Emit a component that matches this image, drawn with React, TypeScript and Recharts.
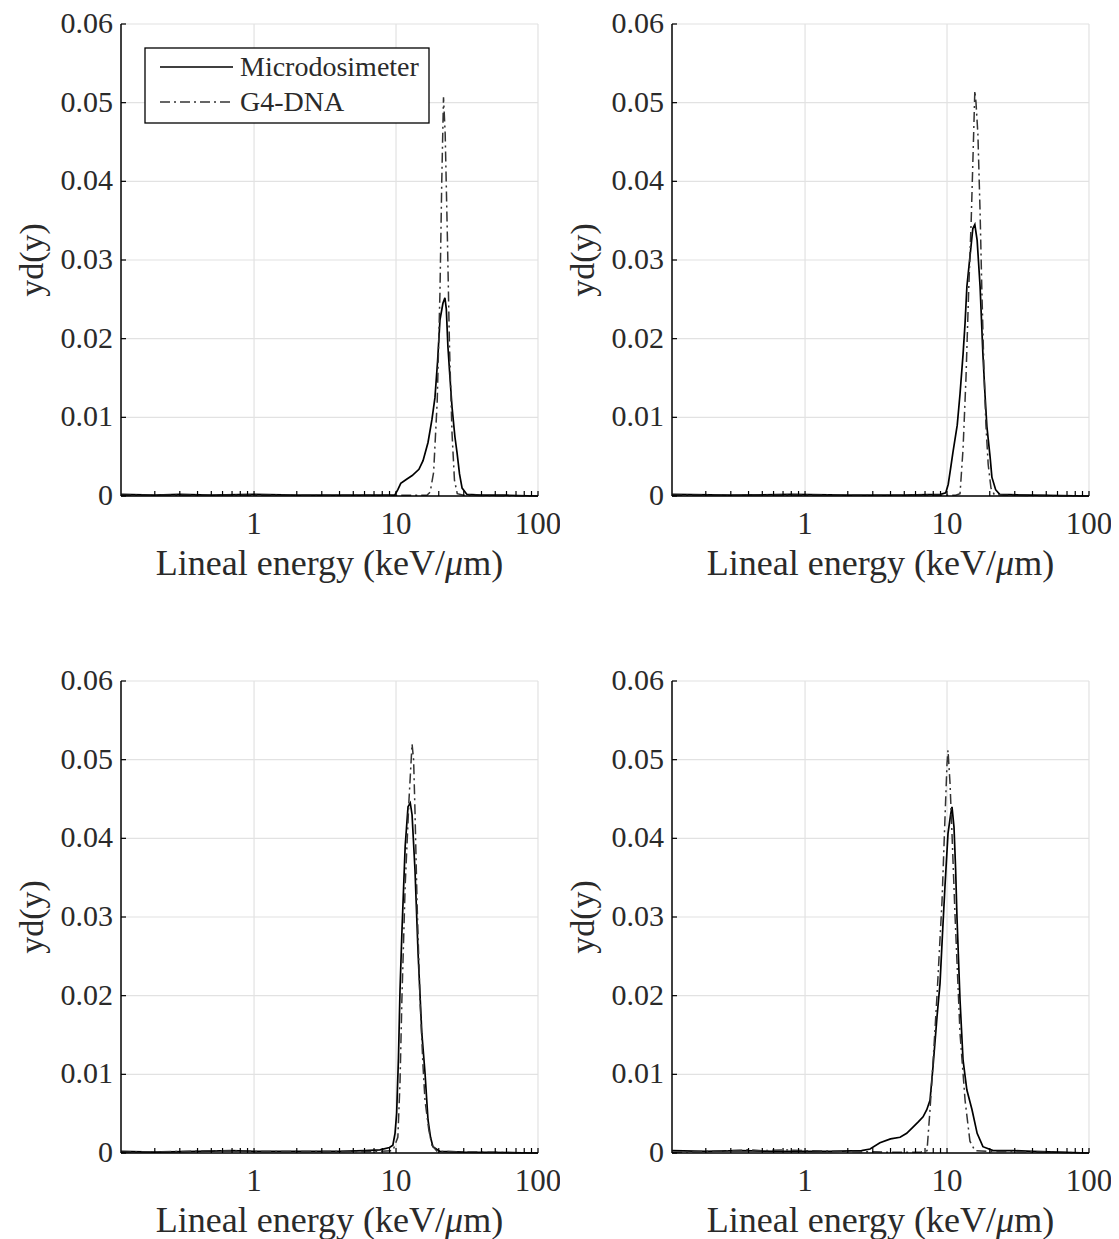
import React from "react"
import { CartesianGrid, Line, LineChart, ReferenceLine, XAxis, YAxis } from "recharts"

const FONT = "'Liberation Serif', 'Times New Roman', serif"

const xTicks = [
  0.2, 0.3, 0.4, 0.5, 0.6, 0.7, 0.8, 0.9, 1, 2, 3, 4, 5, 6, 7, 8, 9, 10, 20, 30, 40, 50, 60, 70, 80, 90, 100,
]
const majorTicks = [1, 10, 100]
const yTicks = [0, 0.01, 0.02, 0.03, 0.04, 0.05, 0.06]
const seriesNames = ["Microdosimeter", "G4-DNA"]

// top left
const tlMicroE = [0.116, 0.2, 0.3, 0.5, 1, 2, 4, 7, 9.8, 10.3, 10.8, 11.8, 13, 14.5, 15.5, 16.8, 17.9, 18.8, 19.6, 20.4, 21.4, 22.1, 22.6, 23.2, 24, 24.8, 26, 26.9, 28, 29.2, 31.6, 40, 60, 100]
const tlMicroY = [0.0002, 0.0001, 0.0002, 0.0001, 0.0002, 0.0001, 0.0001, 0.0001, 0.0001, 0.0008, 0.0016, 0.0021, 0.0026, 0.0034, 0.0045, 0.0068, 0.0097, 0.0125, 0.017, 0.0224, 0.0245, 0.0252, 0.0238, 0.019, 0.015, 0.0113, 0.0075, 0.0055, 0.0028, 0.001, 0.0002, 0.0001, 0.0001, 0]
const tlG4E = [0.116, 0.5, 2, 8, 16.5, 17.4, 18.4, 19.5, 20.4, 21, 21.6, 22.2, 23, 23.8, 24.8, 25.8, 27, 30, 100]
const tlG4Y = [0.0001, 0.0001, 0.0001, 0.0001, 0.0001, 0.0005, 0.003, 0.012, 0.026, 0.04, 0.0507, 0.046, 0.033, 0.019, 0.008, 0.002, 0.0003, 0.0001, 0]

// top right
const trMicroE = [0.116, 0.3, 0.8, 2, 5, 9, 9.8, 10.2, 10.6, 11, 11.8, 12.35, 12.97, 13.4, 13.8, 14.5, 15.2, 15.7, 16.3, 17.1, 17.9, 18.5, 19.1, 20.1, 20.7, 22, 23.5, 40, 100]
const trMicroY = [0.0002, 0.0001, 0.0002, 0.0001, 0.0001, 0.0002, 0.0004, 0.0015, 0.0035, 0.0055, 0.009, 0.013, 0.018, 0.022, 0.0266, 0.0304, 0.034, 0.0345, 0.0325, 0.0266, 0.018, 0.013, 0.0088, 0.005, 0.0024, 0.0008, 0.0002, 0.0001, 0]
const trG4E = [0.116, 1, 5, 11.5, 12.35, 12.97, 13.6, 14.2, 14.8, 15.4, 15.7, 16, 16.5, 17.1, 17.6, 18.2, 18.8, 19.5, 20.4, 21.5, 25, 100]
const trG4Y = [0.0001, 0.0001, 0.0001, 0.0001, 0.0003, 0.006, 0.015, 0.026, 0.035, 0.046, 0.0515, 0.05, 0.046, 0.036, 0.026, 0.016, 0.009, 0.004, 0.001, 0.0002, 0.0001, 0]

// bottom left
const blMicroE = [0.116, 0.2, 0.4, 0.7, 1, 2, 4, 6, 7.7, 9, 9.5, 9.84, 10.1, 10.4, 10.67, 11, 11.6, 12.15, 12.6, 12.97, 13.6, 14.3, 15.2, 16, 16.8, 17.5, 18.2, 20.4, 30, 100]
const blMicroY = [0.0002, 0.0001, 0.0002, 0.0003, 0.0002, 0.0002, 0.0002, 0.0003, 0.0004, 0.0007, 0.001, 0.0025, 0.005, 0.012, 0.0207, 0.028, 0.039, 0.044, 0.0445, 0.043, 0.036, 0.0254, 0.0152, 0.0102, 0.0042, 0.002, 0.0008, 0.0002, 0.0001, 0]
const blG4E = [0.116, 0.3, 0.6, 1, 3, 7, 9.5, 10.3, 10.67, 11, 11.6, 12.35, 12.97, 13.3, 13.6, 14.06, 14.75, 15.5, 16, 17, 17.9, 19.5, 100]
const blG4Y = [0.0001, 0.0002, 0.0003, 0.0002, 0.0002, 0.0002, 0.0003, 0.002, 0.009, 0.0195, 0.034, 0.045, 0.052, 0.05, 0.0435, 0.032, 0.0195, 0.011, 0.0067, 0.003, 0.001, 0.0002, 0]

// bottom right
const brMicroE = [0.116, 0.2, 0.35, 0.6, 1, 1.5, 2.5, 2.87, 3.37, 4, 4.67, 5.2, 5.76, 6.3, 6.78, 7.2, 7.59, 7.97, 8.5, 8.93, 9.3, 9.68, 10.16, 10.6, 10.84, 11.2, 11.5, 11.75, 12.35, 12.97, 13.8, 15, 16.3, 17.9, 21.1, 30, 40, 60, 100]
const brMicroY = [0.0003, 0.0002, 0.0003, 0.0002, 0.0002, 0.0002, 0.0003, 0.0005, 0.0013, 0.0018, 0.002, 0.0025, 0.0033, 0.004, 0.0046, 0.0055, 0.0067, 0.011, 0.0173, 0.0216, 0.028, 0.034, 0.0406, 0.043, 0.044, 0.0414, 0.036, 0.03, 0.0194, 0.0118, 0.008, 0.0055, 0.0025, 0.0008, 0.0003, 0.0003, 0.0002, 0.0001, 0]
const brG4E = [0.116, 0.2, 0.3, 0.4, 0.5, 0.7, 1, 2, 4, 6.5, 7.23, 7.59, 8, 8.5, 9.22, 9.68, 10, 10.16, 10.5, 10.84, 11.4, 12.35, 13.4, 14.5, 15.7, 20, 30, 100]
const brG4Y = [0.0001, 0.0002, 0.0003, 0.0004, 0.0003, 0.0004, 0.0003, 0.0002, 0.0001, 0.0001, 0.0003, 0.0055, 0.012, 0.02, 0.032, 0.0427, 0.0495, 0.0512, 0.047, 0.0406, 0.03, 0.0152, 0.0067, 0.0015, 0.0003, 0.0002, 0.0002, 0]

const zip = (e: number[], v: number[]) => e.map((x, i) => ({ e: x, v: v[i] }))

const panels = [
  { left: 121, top: 24, micro: zip(tlMicroE, tlMicroY), g4: zip(tlG4E, tlG4Y), legend: true },
  { left: 672, top: 24, micro: zip(trMicroE, trMicroY), g4: zip(trG4E, trG4Y), legend: false },
  { left: 121, top: 681, micro: zip(blMicroE, blMicroY), g4: zip(blG4E, blG4Y), legend: false },
  { left: 672, top: 681, micro: zip(brMicroE, brMicroY), g4: zip(brG4E, brG4Y), legend: false },
]

const PLOT_W = 417
const PLOT_H = 472
const Y_W = 121

function XTick({ x, y, payload }: any) {
  const v = payload.value
  const major = majorTicks.includes(v)
  return (
    <g>
      <line x1={x} x2={x} y1={y} y2={y - 5} stroke="#000" strokeWidth={1.2} />
      {major && (
        <text x={x} y={y + 38} textAnchor="middle" fontSize={31} fontFamily={FONT} fill="#2a2a2a">
          {v}
        </text>
      )}
    </g>
  )
}

function YTick({ x, y, payload }: any) {
  return (
    <g>
      <line x1={x} x2={x + 5} y1={y} y2={y} stroke="#000" strokeWidth={1.2} />
      <text x={x - 8} y={y} dy="0.3em" textAnchor="end" fontSize={30} fontFamily={FONT} fill="#2a2a2a">
        {String(payload.value)}
      </text>
    </g>
  )
}

function LegendBox() {
  return (
    <svg width={286} height={77} style={{ position: "absolute", left: 144, top: 47 }}>
      <rect x={1} y={1} width={284} height={75} fill="#fff" stroke="#000" strokeWidth={1.3} />
      <line x1={16} x2={89} y1={20} y2={20} stroke="#000" strokeWidth={1.6} />
      <line x1={16} x2={89} y1={55} y2={55} stroke="#333" strokeWidth={1.4} strokeDasharray="10 4 2 4" />
      <text x={96} y={29} fontSize={28} fontFamily={FONT} fill="#2a2a2a">{seriesNames[0]}</text>
      <text x={96} y={64} fontSize={28} fontFamily={FONT} fill="#2a2a2a">{seriesNames[1]}</text>
    </svg>
  )
}

function Panel({ left, top, micro, g4, legend }: any) {
  return (
    <>
      <div style={{ position: "absolute", left: left - Y_W, top: top - 24 }}>
        <LineChart width={Y_W + PLOT_W + 22} height={24 + PLOT_H + 60} margin={{ top: 24, right: 22, bottom: 0, left: 0 }}>
          <CartesianGrid vertical={false} stroke="#e2e2e2" strokeWidth={1.2} />
          {majorTicks.map((t) => (
            <ReferenceLine key={t} x={t} stroke="#e2e2e2" strokeWidth={1.2} />
          ))}
          <XAxis
            dataKey="e"
            type="number"
            scale="log"
            domain={[0.1156, 100]}
            allowDataOverflow
            ticks={xTicks}
            interval={0}
            tickSize={0}
            tickMargin={0}
            tickLine={false}
            tick={(p: any) => <XTick {...p} />}
            axisLine={{ stroke: "#000", strokeWidth: 1.5 }}
            height={60}
          />
          <YAxis
            type="number"
            domain={[0, 0.06]}
            ticks={yTicks}
            interval={0}
            tickSize={0}
            tickMargin={0}
            tickLine={false}
            tick={(p: any) => <YTick {...p} />}
            axisLine={{ stroke: "#000", strokeWidth: 1.5 }}
            width={Y_W}
          />
          <Line data={micro} dataKey="v" type="linear" stroke="#000" strokeWidth={1.7} dot={false} isAnimationActive={false} name={seriesNames[0]} />
          <Line data={g4} dataKey="v" type="linear" stroke="#333" strokeWidth={1.5} strokeDasharray="10 4 2 4" dot={false} isAnimationActive={false} name={seriesNames[1]} />
        </LineChart>
      </div>
      <div
        style={{
          position: "absolute",
          left: left - 89 - 100,
          top: top + PLOT_H / 2 - 17,
          width: 200,
          height: 34,
          lineHeight: "34px",
          textAlign: "center",
          transform: "rotate(-90deg)",
          fontFamily: FONT,
          fontSize: 34,
          color: "#2a2a2a",
        }}
      >
        yd(y)
      </div>
      <div
        style={{
          position: "absolute",
          left: left,
          top: top + PLOT_H + 49,
          width: PLOT_W,
          height: 36,
          lineHeight: "36px",
          textAlign: "center",
          fontFamily: FONT,
          fontSize: 36,
          color: "#2a2a2a",
          whiteSpace: "nowrap",
        }}
      >
        Lineal energy (keV/<i>μ</i>m)
      </div>
      {legend && <LegendBox />}
    </>
  )
}

export default function App() {
  return (
    <div style={{ position: "absolute", left: 0, top: 0, width: 1119, height: 1239, background: "#fff" }}>
      {panels.map((p, i) => (
        <Panel key={i} {...p} />
      ))}
    </div>
  )
}
